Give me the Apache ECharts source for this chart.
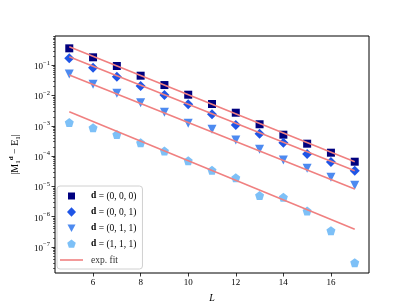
<!DOCTYPE html>
<html><head><meta charset="utf-8">
<script src="https://cdn.jsdelivr.net/npm/echarts@6/dist/echarts.min.js"></script>
<style>html,body{margin:0;padding:0;background:#fff}#c{width:411px;height:308px}</style>
</head><body><div id="c"></div>
<script>
var L = [5,6,7,8,9,10,11,12,13,14,15,16,17];
var d000 = [0.364,0.184,0.095,0.0454,0.0223,0.0107,0.00527,0.00272,0.00113,5.11e-4,2.58e-4,1.30e-4,6.55e-5];
var d001 = [0.170,0.0833,0.0421,0.0207,0.01045,0.00515,0.00241,0.00107,5.51e-4,2.78e-4,1.18e-4,6.4e-5,3.3e-5];
var d011 = [0.0516,0.0236,0.0119,0.00582,0.00281,0.00122,7.7e-4,3.41e-4,1.68e-4,7.45e-5,3.96e-5,2.0e-5,1.09e-5];
var d111 = [0.00129,8.63e-4,5.19e-4,2.78e-4,1.48e-4,7.07e-5,3.40e-5,1.94e-5,5.0e-6,4.37e-6,1.54e-6,3.45e-7,3.03e-8];
var fitL = [5,17];
var fit000 = [0.411,6.55e-5];
var fit001 = [0.192,3.30e-5];
var fit011 = [0.0479,8.22e-6];
var fit111 = [0.00294,3.84e-7];
var xTicks = [6,8,10,12,14,16];
var yTicks = [1e-7,1e-6,1e-5,1e-4,1e-3,1e-2,1e-1];
var yExp = ['−7','−6','−5','−4','−3','−2','−1'];
var legendNames = ['d000','d001','d011','d111','exp. fit'];
var legendLabels = {'d000':'(0, 0, 0)','d001':'(0, 0, 1)','d011':'(0, 1, 1)','d111':'(1, 1, 1)'};

var yMinor = [];
for (var k = -8; k <= -1; k++) for (var m = 2; m <= 9; m++) yMinor.push(m * Math.pow(10, k));
function pts(xs, ys){ return xs.map(function(x,i){ return [x, ys[i]]; }); }

var FONT = 'Liberation Serif';
var YMIN = 1.38e-8, YMAX = 0.93;
var pent = 'path://M0,-1 L0.951,-0.309 L0.588,0.809 L-0.588,0.809 L-0.951,-0.309 Z';
var B = 'path://M0,0M23,10';
var icons = {
  'd000': B + 'M8,1.5L15,1.5L15,8.5L8,8.5Z',
  'd001': B + 'M11.5,0.3L16,5L11.5,9.7L7,5Z',
  'd011': B + 'M7.5,1.5L15.5,1.5L11.5,9Z',
  'd111': B + 'M11.5,0.6L15.78,3.7L14.15,8.7L8.85,8.7L7.22,3.7Z',
  'exp. fit': B + 'M0,4.2L23,4.2L23,5.8L0,5.8Z'
};

function scatter(name, ys, sym, color, size, rot){
  return {type:'scatter', name:name, data:pts(L, ys), symbol:sym, symbolSize:size, symbolRotate:rot||0,
    itemStyle:{color:color, opacity:1}, z:3};
}
function fit(ys){
  return {type:'line', name:'exp. fit', data:pts(fitL, ys), showSymbol:false, symbol:'none',
    lineStyle:{color:'#f08080', width:1.6}, itemStyle:{color:'#f08080'}, z:4, silent:true};
}

var chart = echarts.init(document.getElementById('c'), null, {renderer:'canvas'});
chart.setOption({
  animation:false,
  backgroundColor:'#fff',
  grid:{left:52, right:42, top:36, bottom:35, show:true, borderColor:'#000', borderWidth:1, backgroundColor:'transparent'},
  xAxis:{type:'value', min:4.4, max:17.6, splitLine:{show:false},
    axisLine:{show:false},
    axisTick:{show:true, customValues:xTicks, length:3.5, lineStyle:{color:'#000', width:0.8}},
    axisLabel:{customValues:xTicks, color:'#000', fontFamily:FONT, fontSize:9, margin:5},
    name:'L', nameLocation:'middle', nameGap:20,
    nameTextStyle:{fontFamily:FONT, fontStyle:'italic', fontSize:10, color:'#000'}},
  yAxis:[{type:'log', logBase:10, min:YMIN, max:YMAX, splitLine:{show:false},
    axisLine:{show:false},
    axisTick:{show:true, customValues:yTicks, length:3.5, lineStyle:{color:'#000', width:0.8}},
    axisLabel:{customValues:yTicks, color:'#000', fontFamily:FONT, fontSize:9, margin:5,
      rich:{n:{fontFamily:FONT, fontSize:9, color:'#000', lineHeight:12, verticalAlign:'bottom'},
            e:{fontFamily:FONT, fontSize:6.5, color:'#000', lineHeight:12, verticalAlign:'top'}},
      formatter:function(v){ var e = Math.round(Math.log10(v)); var i = yTicks.findIndex(function(t){return Math.round(Math.log10(t))===e;}); return i>=0?('{n|10}{e|'+yExp[i]+'}'):''; }},
    name:'{t||M}{s|1}{p|d}{t| − E}{s|1}{t||}', nameLocation:'middle', nameGap:33, nameRotate:90,
    nameTextStyle:{fontFamily:FONT, fontSize:10, color:'#000',
      rich:{t:{fontFamily:FONT, fontSize:10, color:'#000', lineHeight:14, verticalAlign:'middle'},
            s:{fontFamily:FONT, fontSize:7, color:'#000', lineHeight:14, verticalAlign:'bottom'},
            p:{fontFamily:FONT, fontSize:7, fontWeight:'bold', color:'#000', lineHeight:14, verticalAlign:'top'}}}},
   {type:'log', logBase:10, min:YMIN, max:YMAX, position:'left', splitLine:{show:false},
    axisLine:{show:false},
    axisTick:{show:true, customValues:yMinor, length:2, lineStyle:{color:'#000', width:0.6}},
    axisLabel:{show:false}}],
  legend:{orient:'vertical', left:57, top:186,
    data:legendNames.map(function(n){ return {name:n, icon:icons[n]}; }),
    itemWidth:23, itemHeight:10, itemGap:6,
    padding:[5,6,4,3], backgroundColor:'#fff', borderColor:'#d0d0d0', borderWidth:1, borderRadius:3,
    textStyle:{fontFamily:FONT, fontSize:9.5, color:'#000',
      rich:{b:{fontFamily:FONT, fontSize:9.5, fontWeight:'bold', color:'#000', padding:[0,0,0,3]},
            t:{fontFamily:FONT, fontSize:9.5, color:'#000'},
            f:{fontFamily:FONT, fontSize:9.5, color:'#333', padding:[0,0,0,3]}}},
    formatter:function(n){ if (legendLabels[n]) return '{b|d}{t| = ' + legendLabels[n] + '}'; return '{f|' + n + '}'; }},
  series:[
    scatter('d000', d000, 'rect', '#00007f', 8),
    scatter('d001', d001, 'diamond', '#1f55e6', 10),
    scatter('d011', d011, 'triangle', '#4d8af0', 9, 180),
    scatter('d111', d111, pent, '#7dc0f7', 9),
    fit(fit000), fit(fit001), fit(fit011), fit(fit111)
  ]
});
</script></body></html>
